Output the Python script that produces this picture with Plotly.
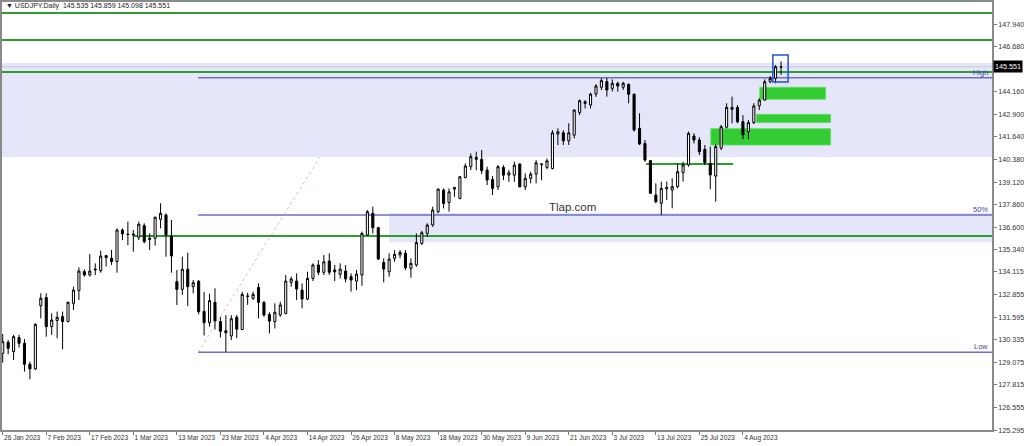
import plotly.graph_objects as go

# ---------------- data ----------------
tick_labels = ["26 Jan 2023", "7 Feb 2023", "17 Feb 2023", "1 Mar 2023", "13 Mar 2023",
               "23 Mar 2023", "4 Apr 2023", "14 Apr 2023", "26 Apr 2023", "8 May 2023",
               "18 May 2023", "30 May 2023", "9 Jun 2023", "21 Jun 2023", "3 Jul 2023",
               "13 Jul 2023", "25 Jul 2023", "4 Aug 2023"]
bars_per_label = 8

opens = [129.57, 130.19, 129.67, 130.45, 130.13, 128.96, 128.70, 132.23, 132.68, 131.06,
         131.40, 131.62, 131.34, 132.36, 133.07, 134.13, 133.94, 134.22, 134.18, 135.02,
         134.87, 134.69, 136.45, 136.22, 136.17, 136.04, 136.69, 135.99, 135.99, 137.05,
         137.29, 136.12, 133.57, 133.14, 134.26, 133.29, 133.59, 131.91, 131.28, 132.42,
         131.34, 130.83, 130.54, 131.58, 130.90, 132.77, 132.64, 133.25, 132.41, 131.74,
         131.34, 131.71, 131.80, 133.53, 133.60, 133.10, 132.60, 133.75, 134.50, 134.09,
         134.72, 134.22, 133.98, 134.16, 133.85, 133.60, 133.94, 136.17, 137.38, 136.58,
         134.64, 134.12, 134.87, 135.05, 135.15, 134.31, 134.50, 135.70, 136.26, 136.73,
         137.47, 138.68, 137.98, 138.73, 138.21, 139.38, 139.98, 140.50, 140.39, 139.79,
         139.27, 138.86, 139.94, 139.51, 139.51, 140.13, 138.86, 139.33, 139.57, 140.09,
         139.94, 139.88, 141.80, 141.87, 141.43, 141.74, 143.00, 143.51, 143.42, 144.03,
         144.41, 144.72, 144.35, 144.63, 144.41, 144.57, 144.02, 142.12, 141.28, 140.32,
         138.40, 137.94, 138.75, 138.68, 138.87, 139.65, 140.08, 141.69, 141.47, 140.95,
         140.17, 139.46, 141.02, 142.18, 143.18, 143.29, 142.49, 141.94, 142.44, 143.37,
         143.70, 144.72, 144.91, 145.535]
highs = [130.65, 130.32, 130.60, 130.60, 130.37, 129.11, 131.24, 132.92, 132.92, 131.80,
         131.90, 131.90, 132.45, 133.29, 134.37, 134.26, 135.11, 134.59, 135.30, 135.06,
         135.34, 136.54, 136.54, 136.92, 136.45, 136.92, 136.82, 136.26, 137.20, 137.94,
         137.38, 137.01, 134.22, 134.96, 135.19, 133.66, 133.66, 133.00, 132.90, 133.20,
         131.60, 131.70, 131.70, 131.71, 133.00, 132.95, 133.01, 133.47, 132.49, 131.86,
         132.36, 132.45, 133.94, 133.85, 134.03, 133.47, 134.12, 134.59, 134.77, 135.05,
         135.15, 134.50, 134.59, 134.50, 134.03, 134.22, 136.36, 137.56, 137.75, 136.63,
         134.87, 135.15, 135.33, 135.33, 135.33, 134.87, 136.26, 136.40, 136.82, 137.75,
         138.77, 138.77, 138.77, 138.86, 139.46, 140.16, 140.72, 140.82, 140.91, 139.98,
         139.46, 140.07, 140.07, 139.79, 140.26, 140.16, 139.61, 139.70, 140.35, 140.16,
         140.44, 142.02, 142.12, 142.02, 142.40, 143.18, 143.73, 143.70, 144.11, 144.59,
         144.91, 144.94, 144.85, 144.72, 144.72, 144.63, 144.07, 142.96, 141.47, 140.35,
         139.05, 139.15, 139.15, 139.33, 140.17, 140.26, 141.94, 141.84, 141.62, 141.19,
         141.10, 141.23, 142.31, 143.52, 143.89, 143.42, 142.86, 142.59, 143.52, 143.80,
         144.85, 145.04, 145.65, 145.859]
lows = [129.05, 129.52, 129.20, 129.89, 128.55, 128.12, 128.64, 131.52, 130.50, 130.60,
        130.41, 129.80, 131.30, 131.99, 132.55, 133.85, 133.85, 133.94, 134.07, 134.41,
        134.50, 134.07, 135.89, 135.61, 135.24, 135.89, 135.71, 135.34, 135.58, 136.54,
        134.96, 134.07, 132.27, 132.83, 132.21, 132.92, 131.75, 130.57, 131.06, 130.90,
        130.45, 129.65, 130.31, 130.41, 130.87, 132.27, 132.54, 131.52, 131.61, 130.68,
        130.96, 131.61, 131.74, 133.29, 132.54, 132.08, 132.54, 133.60, 133.94, 133.94,
        133.94, 133.60, 133.75, 133.53, 133.01, 133.10, 133.34, 136.13, 136.26, 134.77,
        133.53, 133.85, 134.68, 134.87, 134.22, 133.79, 134.40, 135.61, 136.07, 136.63,
        137.38, 137.65, 137.47, 138.30, 138.16, 139.33, 139.79, 139.79, 139.57, 138.96,
        138.40, 138.68, 139.23, 139.14, 139.14, 138.83, 138.68, 139.05, 139.05, 139.23,
        139.83, 139.83, 141.19, 141.19, 141.19, 141.56, 142.86, 143.23, 143.23, 143.88,
        144.26, 143.89, 144.17, 144.17, 144.26, 143.52, 141.94, 141.19, 140.26, 138.46,
        137.94, 137.29, 138.12, 137.66, 138.78, 139.15, 139.98, 141.28, 140.63, 140.08,
        138.72, 138.03, 140.91, 142.12, 142.40, 142.40, 141.51, 141.51, 142.36, 143.14,
        143.66, 144.63, 144.63, 145.098]
closes = [130.22, 129.85, 130.50, 130.13, 128.96, 128.70, 131.19, 132.64, 131.06, 131.43,
          131.58, 131.34, 132.42, 133.10, 134.16, 133.94, 134.16, 134.26, 135.00, 134.91,
          134.69, 136.45, 136.23, 136.20, 136.21, 136.77, 135.80, 135.93, 137.16, 137.38,
          136.17, 135.00, 133.14, 134.26, 133.29, 133.51, 131.90, 131.28, 132.51, 131.38,
          130.80, 130.72, 131.50, 130.92, 132.86, 132.75, 132.86, 132.41, 131.71, 131.37,
          131.86, 132.27, 133.60, 133.72, 133.16, 132.60, 133.75, 134.50, 134.09, 134.68,
          134.09, 134.12, 134.27, 133.72, 133.66, 133.99, 136.26, 137.47, 136.58, 134.83,
          134.27, 134.83, 135.09, 135.20, 134.35, 134.59, 135.75, 136.30, 136.73, 137.56,
          138.73, 137.93, 138.58, 138.82, 139.42, 140.02, 140.54, 140.39, 139.76, 139.24,
          138.77, 139.98, 139.51, 139.64, 140.07, 138.86, 139.33, 139.57, 140.20, 140.13,
          140.31, 141.87, 141.93, 141.43, 141.87, 143.14, 143.66, 143.60, 144.03, 144.48,
          144.78, 144.26, 144.63, 144.48, 144.63, 144.02, 142.03, 141.25, 140.35, 138.50,
          138.03, 138.77, 138.82, 138.87, 139.70, 140.08, 141.84, 141.47, 140.82, 140.21,
          139.52, 141.10, 142.21, 143.29, 143.29, 142.49, 141.75, 142.44, 143.37, 143.70,
          144.72, 144.91, 145.56, 145.551]

y_tick_vals = [147.940, 146.680, 144.160, 142.900, 141.640, 140.380, 139.120, 137.860,
               136.600, 135.340, 134.115, 132.855, 131.595, 130.335, 129.075, 127.815,
               126.555, 125.295]

symbol_title = "▼ USDJPY.Daily  145.535 145.859 145.098 145.551"
last_price = 145.551

# chart levels (price) drawn on the chart
green_levels_full = [148.55, 147.05, 145.26]
green_level_mid = 136.12          # from 1 Mar 2023 onwards
green_level_short = 140.13
fib_high, fib_mid, fib_low = 144.94, 137.29, 129.63
zone_top = (140.52, 145.77)
zone_mid = (135.77, 137.40)
green_boxes = [(143.74, 144.41), (142.44, 142.90), (141.19, 142.10)]
blue_box = (144.70, 146.21)
watermark = "Tlap.com"

# ---------------- figure ----------------
n = len(opens)
idx = list(range(n))
X0, X1 = -0.13, 181.76
Y0, Y1 = 125.295, 149.167

fig = go.Figure()
fig.add_trace(go.Candlestick(
    x=idx, open=opens, high=highs, low=lows, close=closes,
    increasing=dict(fillcolor="white", line=dict(color="black", width=1)),
    decreasing=dict(fillcolor="black", line=dict(color="black", width=1)),
    whiskerwidth=0, hoverinfo="skip", showlegend=False))

shapes = []
lav = "#E6E6FA"
shapes.append(dict(type="rect", layer="below", xref="paper", yref="y", x0=0, x1=1,
                   y0=zone_top[0], y1=zone_top[1], fillcolor=lav, line=dict(width=0)))
shapes.append(dict(type="rect", layer="below", xref="x", yref="y", x0=71.0, x1=X1,
                   y0=zone_mid[0], y1=zone_mid[1], fillcolor=lav, line=dict(width=0)))
# dotted fib trend line, from the low anchor up to the lower edge of the band
shapes.append(dict(type="line", layer="below", xref="x", yref="y",
                   x0=35.9, y0=fib_low, x1=58.3, y1=zone_top[0],
                   line=dict(color="rgba(240,150,165,0.75)", width=1, dash="dot")))
# bid line
shapes.append(dict(type="line", layer="below", xref="paper", yref="y", x0=0, x1=1,
                   y0=last_price, y1=last_price, line=dict(color="#C8C8D2", width=1)))
# green zones
gx = [(139.1, 151.2), (138.5, 152.1), (130.1, 152.1)]
for (ya, yb), (xa, xb) in zip(green_boxes, gx):
    shapes.append(dict(type="rect", layer="below", xref="x", yref="y", x0=xa, x1=xb,
                       y0=ya, y1=yb, fillcolor="#33CC33", line=dict(color="#66DD66", width=1)))
# fib lines
fibc = "#6E6EC8"
for lv in (fib_high, fib_mid, fib_low):
    shapes.append(dict(type="line", layer="below", xref="x", yref="y", x0=35.9, x1=X1,
                       y0=lv, y1=lv, line=dict(color=fibc, width=1.5)))
# green horizontal lines
gc = "#2E9E2E"
for lv in green_levels_full:
    shapes.append(dict(type="line", layer="below", xref="paper", yref="y", x0=0, x1=1,
                       y0=lv, y1=lv, line=dict(color=gc, width=2)))
shapes.append(dict(type="line", layer="below", xref="x", yref="y", x0=24, x1=X1,
                   y0=green_level_mid, y1=green_level_mid, line=dict(color=gc, width=2)))
shapes.append(dict(type="line", layer="below", xref="x", yref="y", x0=118.2, x1=134.2,
                   y0=green_level_short, y1=green_level_short, line=dict(color=gc, width=2)))
# blue highlight box
shapes.append(dict(type="rect", layer="above", xref="x", yref="y", x0=141.5, x1=144.3,
                   y0=blue_box[0], y1=blue_box[1], line=dict(color="#2050E0", width=1.5)))

font_fam = "Liberation Sans, Arial, sans-serif"
ann = []
for lv, txt in ((fib_high, "High"), (fib_mid, "50%"), (fib_low, "Low")):
    ann.append(dict(xref="paper", yref="y", x=0.998, y=lv, text=txt, showarrow=False,
                    xanchor="right", yanchor="bottom", yshift=-1,
                    font=dict(family=font_fam, size=7.5, color="#4848A8")))
ann.append(dict(xref="x", yref="y", x=104.7, y=137.71, text=watermark, showarrow=False,
                font=dict(family=font_fam, size=11.5, color="#333333")))
ann.append(dict(xref="paper", yref="paper", x=0.002, y=0.991, text=symbol_title,
                showarrow=False, xanchor="left", yanchor="middle",
                font=dict(family=font_fam, size=7, color="#222222")))
ann.append(dict(xref="paper", yref="y", x=1, y=last_price, text=f"{last_price:.3f}",
                showarrow=False, xanchor="left", yanchor="middle", xshift=1,
                bgcolor="black", borderpad=1,
                font=dict(family=font_fam, size=7.2, color="white")))

fig.update_layout(
    width=1024, height=446,
    margin=dict(l=2, r=32, t=2, b=16, autoexpand=False),
    paper_bgcolor="white", plot_bgcolor="white",
    shapes=shapes, annotations=ann, boxgap=0.45,
    showlegend=False, hovermode=False,
    xaxis=dict(range=[X0, X1], rangeslider=dict(visible=False),
               tickmode="array",
               tickvals=[i * bars_per_label for i in range(len(tick_labels))],
               ticktext=tick_labels, ticklabelposition="outside right", tickangle=0,
               ticks="outside", ticklen=3, tickcolor="#777", showgrid=False, zeroline=False,
               showline=True, linecolor="#8A8A8A", linewidth=1.5, mirror=True,
               automargin=False,
               tickfont=dict(family=font_fam, size=6.6, color="#333")),
    yaxis=dict(range=[Y0, Y1], side="right", tickmode="array", tickvals=y_tick_vals,
               ticktext=[f"{v:.3f}" for v in y_tick_vals],
               ticks="outside", ticklen=3, tickcolor="#777", showgrid=False, zeroline=False,
               showline=True, linecolor="#8A8A8A", linewidth=1.5, mirror=True,
               automargin=False,
               tickfont=dict(family=font_fam, size=7.2, color="#333")),
)

fig.write_html("out.html", config={"displayModeBar": False},
               post_script="document.body.style.margin='0';document.body.style.overflow='hidden';")
